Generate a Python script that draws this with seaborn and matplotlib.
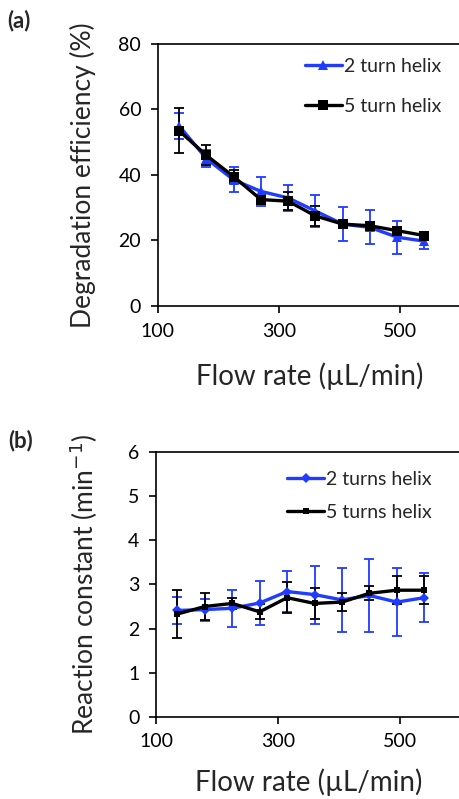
import numpy as np
import pandas as pd
import seaborn as sns
import matplotlib.pyplot as plt

# flow rates (uL/min)
flow = [135, 180, 225, 270, 315, 360, 405, 450, 495, 540]

# (a) degradation efficiency (%)
eff_2 = [55.0, 45.0, 38.5, 35.0, 33.0, 29.0, 25.0, 24.0, 21.0, 19.8]
eff_2_err = [4.0, 2.5, 3.8, 4.5, 4.0, 4.8, 5.3, 5.2, 5.0, 2.5]
eff_5 = [53.5, 46.0, 39.5, 32.5, 32.0, 27.5, 25.0, 24.5, 23.0, 21.5]
eff_5_err = [6.8, 3.0, 2.0, 1.5, 2.7, 3.0, 1.0, 1.0, 1.2, 1.0]

# (b) reaction constant (min-1)
k_2 = [2.41, 2.43, 2.46, 2.58, 2.84, 2.77, 2.65, 2.75, 2.60, 2.70]
k_2_err = [0.31, 0.25, 0.42, 0.50, 0.47, 0.66, 0.72, 0.83, 0.78, 0.56]
k_5 = [2.33, 2.50, 2.57, 2.38, 2.70, 2.57, 2.60, 2.80, 2.87, 2.87]
k_5_err = [0.54, 0.30, 0.13, 0.17, 0.35, 0.36, 0.20, 0.16, 0.32, 0.32]

sns.set_style("ticks")
plt.rcParams['font.family'] = ['Lato', 'DejaVu Sans']
plt.rcParams['xtick.direction'] = 'out'
plt.rcParams['ytick.direction'] = 'out'

fig = plt.figure(figsize=(4.59, 7.99), dpi=100)
ax1 = fig.add_axes([0.344, 0.617, 0.66, 0.328])
ax2 = fig.add_axes([0.340, 0.103, 0.664, 0.331])

blue = '#1f3cff'


def draw(ax, y2, e2, y5, e5, lab2, lab5, m2, ms2, lsp, bpad, bx):
    df = pd.DataFrame({'flow': flow * 2,
                       'val': y2 + y5,
                       'series': [lab2] * len(flow) + [lab5] * len(flow)})
    ax.errorbar(flow, y2, yerr=e2, fmt='none', ecolor=blue, elinewidth=1.3,
                capsize=3.5, capthick=1.3, zorder=2)
    ax.errorbar(flow, y5, yerr=e5, fmt='none', ecolor='black', elinewidth=1.3,
                capsize=3.5, capthick=1.3, zorder=2)
    sns.lineplot(data=df, x='flow', y='val', hue='series', style='series',
                 palette={lab2: blue, lab5: 'black'},
                 markers={lab2: m2, lab5: 's'}, dashes=False,
                 markersize=ms2, markeredgewidth=0, linewidth=2.4, ax=ax,
                 zorder=3)
    ax.set_xlim(100, 600)
    ax.set_xticks([100, 300, 500])
    for s in ax.spines.values():
        s.set_linewidth(1.2)
        s.set_color('black')
    ax.tick_params(labelsize=14, length=5, width=1.2, colors='black', pad=7)
    ax.legend(loc='upper right', bbox_to_anchor=(bx, 1.0), frameon=False,
              fontsize=14, handlelength=1.9, handletextpad=0.1,
              labelspacing=lsp, borderaxespad=bpad)


draw(ax1, eff_2, eff_2_err, eff_5, eff_5_err, '2 turn helix', '5 turn helix', '^', 7, 1.2, 0.3, 0.98)
ax1.set_ylim(0, 80)
ax1.set_yticks([0, 20, 40, 60, 80])
ax1.set_ylabel('Degradation efficiency (%)', fontsize=19, labelpad=16)
ax1.set_xlabel('Flow rate (µL/min)', fontsize=20, labelpad=16)

draw(ax2, k_2, k_2_err, k_5, k_5_err, '2 turns helix', '5 turns helix', 'D', 5, 0.85, 0.55, 0.965)
ax2.set_ylim(0, 6)
ax2.set_yticks([0, 1, 2, 3, 4, 5, 6])
ax2.set_ylabel('Reaction constant (min$^{-1}$)', fontsize=19, labelpad=20)
ax2.set_xlabel('Flow rate (µL/min)', fontsize=20, labelpad=13)

fig.text(0.015, 0.974, '(a)', fontsize=16, fontweight='bold', va='center')
fig.text(0.017, 0.449, '(b)', fontsize=16, fontweight='bold', va='center')

fig.savefig('out.png', dpi=100)
